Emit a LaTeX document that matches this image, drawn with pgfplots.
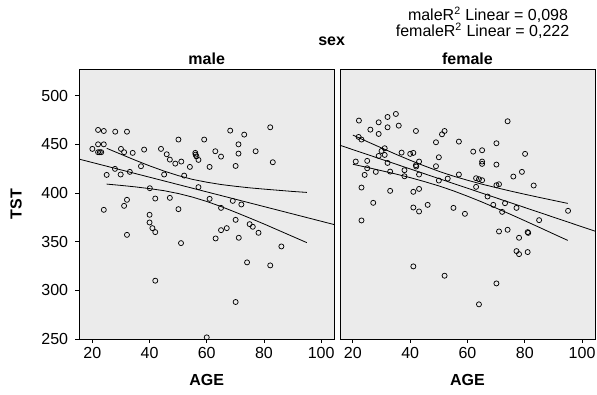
\documentclass[border=0pt]{standalone}
\usepackage{pgfplots}
\pgfplotsset{compat=1.18}
\usepackage{fontspec}
\setmainfont{Liberation Sans}

\pgfplotsset{
  panel/.style={
    scale only axis, height=202.5pt,
    xmin=15.5, xmax=104.5, ymin=250, ymax=527.4,
    xtick={20,40,60,80,100},
    tick align=outside, major tick length=3pt, tick pos=left,
    axis background/.style={fill=black!8},
    axis line style={line width=0.6pt},
    tick style={black, line width=0.6pt},
    /pgf/number format/assume math mode=true,
    ticklabel style={font=\fontsize{12}{14}\selectfont},
    yticklabel style={xshift=-2pt},
    clip=false,
    anchor=south west,
  },
  pts/.style={only marks, mark=o, mark size=1.9pt, mark options={line width=0.55pt}, black},
  fit/.style={no marks, black, line width=0.6pt},
}

\begin{document}
\begin{tikzpicture}
\useasboundingbox (-59.625pt,-42pt) rectangle (388.125pt,254.25pt);

% ---------- male ----------
\begin{axis}[panel, at={(0pt,0pt)}, width=190.875pt,
  ytick={250,300,350,400,450,500}]
\addplot[pts] coordinates {
(20,445.3) (22,464.8) (24,463.7) (22,450) (24,450) (22,441.9) (22.6,441.9) (23.1,441.9)
(28,463) (32.1,463) (30,445.3) (31.1,441.9) (34.1,441.2) (38.1,444.6) (27.9,424.8)
(25,418.6) (29.9,419) (33.1,421.7) (37,427.5) (24,382.7) (31.1,386.8) (32.1,393)
(32.1,357) (40.1,404.9) (42,394.3) (40,377.6) (40,369.7) (41,363.9) (42,359.8)
(42,309.9) (44,445.3) (46,439.8) (47.1,434.3) (49,430.2) (51.1,432.3) (50.1,454.9)
(45.1,419) (47.1,395) (50.1,383.4) (51,348.5) (52.1,417.9) (54.1,426.8) (56,441.2)
(56.1,439.4) (56.4,437.6) (57.1,434) (57.1,406) (59.1,454.9) (61,426.8) (61,394)
(60,251.7) (63,442.9) (65,437.4) (65,384.7) (65,361.8) (67,363.9) (63.1,353.3)
(68.2,464.1) (70.1,427.8) (69.1,391.9) (70.1,372.4) (71.2,354) (71.1,450) (71.1,440.5)
(73.1,460) (72.1,388.2) (70.1,288) (74.1,328.7) (75,368) (76.1,365.3) (77.1,442.9)
(78.1,359.1) (82.2,467.5) (83.1,431.6) (82.2,325.6) (86.1,345.1)
};
\addplot[fit] coordinates {(15.5,434.7) (104.5,367.6)};
\addplot[fit] coordinates {
(25,445.95) (30,439.8) (35,433.7) (40,427.9) (45,422.6) (50,417.9) (55,414.0)
(60,411.1) (65,408.7) (70,406.9) (75,405.3) (80,404.0) (85,402.8) (90,401.6) (95,400.6)};
\addplot[fit] coordinates {
(25,409.15) (30,407.8) (35,406.3) (40,404.5) (45,402.4) (50,399.5) (55,395.8)
(60,391.3) (65,386.1) (70,380.3) (75,374.3) (80,368.2) (85,361.8) (90,355.4) (95,349.0)};
\end{axis}

% ---------- female ----------
\begin{axis}[panel, at={(195.375pt,0pt)}, width=191.25pt, ytick=\empty]
\addplot[pts] coordinates {
(22.1,474.4) (26.1,465.1) (29,472.6) (29,460.7) (32.1,478.1) (32.1,467.5) (35,481.2)
(36,469.2) (22,457.6) (23,454.9) (21,432.3) (25,433) (25,425.4) (24.1,418.6)
(23,405.6) (23,371.8) (27.1,389.9) (28,421.7) (29,438.1) (30,443.2) (31.1,446)
(31.1,439.1) (32.1,430.9) (33,422) (33,402.2) (37,441.5) (38,423.4) (38,417.2)
(40,440.2) (41.1,441.2) (42,463.7) (42,428.5) (42.1,427.2) (43.1,432.3) (43.1,419)
(43.1,404.2) (41.1,401.2) (41.1,385.1) (43.1,381) (46.1,387.8) (41.1,324.6)
(49,452.1) (49,427.5) (50,436.7) (50,412.8) (51.1,460.3) (52,463.7) (53.1,414.8)
(55.1,384.7) (52,315) (57,452.8) (57,419) (59.1,378.6) (62,442.5) (63,415.2)
(63,406.3) (64,414.2) (65.1,443.9) (65.1,432.3) (65.1,429.9) (65.1,413.1) (67,396.4)
(64,285.6) (69,387.8) (70.1,451.1) (70.1,429.2) (70.1,408) (71,409) (71,360.5)
(72.1,380.6) (73.1,389.5) (74,473.7) (74,362.2) (70.1,307.1) (76,416.9) (77.1,384.7)
(77.1,340.3) (78,354) (78,337.2) (79,421.7) (80.1,440.2) (81,359.8) (81.2,359)
(81,339.3) (83.1,407.7) (85,372.1) (95.1,381.7)
};
\addplot[fit] coordinates {(15.5,449.0) (104.5,360.8)};
\addplot[fit] coordinates {
(20,459.5) (25,452.8) (30,446.3) (35,439.8) (40,433.6) (45,427.8) (50,422.3)
(55,417.4) (60,413.1) (65,409.1) (70,405.5) (75,402.0) (80,398.7) (85,395.5) (90,392.4) (95,389.3)};
\addplot[fit] coordinates {
(20,429.5) (25,426.3) (30,422.9) (35,419.5) (40,415.8) (45,411.7) (50,407.3)
(55,402.3) (60,396.7) (65,390.8) (70,384.5) (75,378.1) (80,371.5) (85,364.8) (90,358.0) (95,351.3)};
\end{axis}

% ---------- texts ----------
\node[font=\fontsize{12}{14}\selectfont\bfseries] at (189.15pt,222.98pt) {sex};
\node[font=\fontsize{12}{14}\selectfont\bfseries] at (95.4pt,209.8pt) {male};
\node[font=\fontsize{12}{14}\selectfont\bfseries] at (291pt,209.8pt) {female};
\node[font=\fontsize{12}{14}\selectfont\bfseries] at (95.4pt,-30.75pt) {AGE};
\node[font=\fontsize{12}{14}\selectfont\bfseries] at (291pt,-30.75pt) {AGE};
\node[font=\fontsize{12}{14}\selectfont\bfseries, rotate=90] at (-47.6pt,101.25pt) {TST};
\node[font=\fontsize{12}{14}\selectfont] at (306.4pt,243pt) {maleR\textsuperscript{2} Linear = 0,098};
\node[font=\fontsize{12}{14}\selectfont] at (302.3pt,231pt) {femaleR\textsuperscript{2} Linear = 0,222};
\end{tikzpicture}
\end{document}
